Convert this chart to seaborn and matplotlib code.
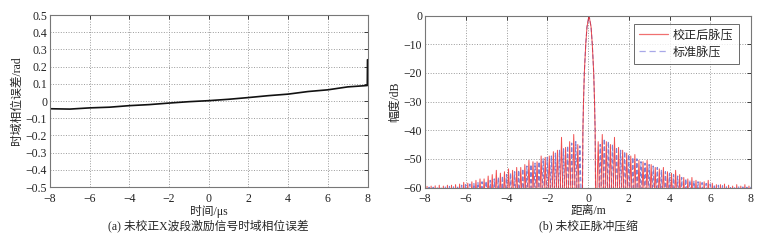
import numpy as np
import pandas as pd
import matplotlib
matplotlib.use("Agg")
import matplotlib.pyplot as plt
import seaborn as sns
from matplotlib.lines import Line2D

sns.set_theme(style="white")
FAM = ["Liberation Serif", "Noto Sans CJK SC", "DejaVu Sans"]
plt.rcParams["font.family"] = FAM
plt.rcParams["axes.unicode_minus"] = True

# ---------------- data: panel (a) ----------------
t_us = [-8, -7, -6, -5, -4, -3, -2, -1, 0, 1, 2, 3, 4, 5, 6, 7, 7.99, 8.0]
phase_err = [-0.045, -0.047, -0.040, -0.036, -0.027, -0.021, -0.012, -0.004, 0.002,
             0.010, 0.020, 0.031, 0.040, 0.055, 0.065, 0.082, 0.090, 0.24]

# ---------------- data: panel (b) ----------------
main_x = [-0.28, -0.25, -0.22, -0.18, -0.11, -0.05, 0.05, 0.15, 0.21, 0.28, 0.32, 0.35, 0.38]
main_y = [-70, -40, -30, -20, -10, -4, 0, -4, -10, -20, -30, -40, -70]

lobe_pos = [0.5, 0.7, 0.9, 1.1, 1.3, 1.5, 1.7, 1.9, 2.1, 2.3, 2.5, 2.7, 2.9, 3.1, 3.3,
            3.5, 3.7, 3.9, 4.1, 4.3, 4.5, 4.7, 4.9, 5.1, 5.3, 5.5, 5.7, 5.9, 6.1, 6.3,
            6.5, 6.7, 6.9, 7.1, 7.3, 7.5, 7.7, 7.9]

red_right = [-44, -41.5, -44, -45, -42.5, -46, -47, -48, -49, -48.5, -50.5, -51, -50.5,
             -52, -53, -53.5, -53, -54.5, -55, -54, -55.5, -56.5, -57, -56.5, -57.5,
             -58, -58, -57.5, -58.5, -59, -59, -58.8, -59.2, -59.5, -59, -59.5, -59, -59.5]
red_left = [-45, -41.5, -44, -46, -42.5, -47, -47.5, -49, -49.5, -49, -51, -51, -50.5,
            -52, -53, -53, -54, -53.5, -54.5, -55, -54, -55.5, -56, -57, -57, -57.5,
            -58, -58.5, -58.2, -58.8, -59, -59.2, -59.2, -59.5, -59.2, -59.4, -59.5, -59.6]
blue_right = [-45, -43, -44, -45, -46, -47, -47.5, -48.5, -49.5, -50, -51, -51.5, -52,
              -52.5, -53, -54, -54.5, -55, -55.5, -56, -56.5, -57, -57.5, -57.8, -58,
              -58.3, -58.6, -58.8, -59, -59.2, -59.4, -59.5, -59.6, -59.7, -59.8, -59.8,
              -59.9, -59.9]
blue_left = [-45.5, -44, -44.5, -45.5, -46.5, -47, -48, -49, -49.5, -50, -51, -51.5, -52,
             -52.5, -53.5, -54, -54.5, -55, -55.5, -56, -56.5, -57, -57.5, -57.8, -58,
             -58.3, -58.6, -58.8, -59, -59.2, -59.4, -59.5, -59.6, -59.7, -59.8, -59.8,
             -59.9, -59.9]

FLOOR = -70
HALF = 0.09


def spikes(pos, heights, shift):
    xs, ys = [], []
    for p, h in zip(pos, heights):
        c = p + shift
        xs += [c - HALF, c, c + HALF]
        ys += [FLOOR, h, FLOOR]
    return xs, ys


def series(shift, left_h, right_h):
    lx, ly = spikes([-p for p in lobe_pos][::-1], left_h[::-1], shift)
    rx, ry = spikes(lobe_pos, right_h, shift)
    x = lx + main_x + rx
    y = ly + main_y + ry
    return pd.DataFrame({"x": x, "y": y, "i": range(len(x))})


df_red = series(0.0, red_left, red_right)
df_blue = series(0.1, blue_left, blue_right)

# ---------------- figure ----------------
W, H = 769, 241
fig = plt.figure(figsize=(W / 100, H / 100), dpi=100)
axA = fig.add_axes([50 / W, (H - 187) / H, 317.5 / W, 172 / H])
axB = fig.add_axes([425 / W, (H - 187.5) / H, 326 / W, 172 / H])

FS = 8.5
for ax in (axA, axB):
    ax.grid(True, linestyle=":", color="#9a9a9a", linewidth=0.7)
    ax.tick_params(direction="in", length=3, labelsize=FS, colors="#222222",
                   top=True, right=True, width=0.6)
    ax.tick_params(axis="x", pad=4)
    ax.tick_params(axis="y", pad=2)
    for s in ax.spines.values():
        s.set_color("#777777")
        s.set_linewidth(0.8)
    ax.set_axisbelow(True)

# panel (a)
dfa = pd.DataFrame({"t": t_us, "e": phase_err})
sns.lineplot(data=dfa, x="t", y="e", ax=axA, color="#111111", linewidth=1.2,
             sort=False, estimator=None)
axA.set_xlim(-8, 8)
axA.set_ylim(-0.5, 0.5)
axA.set_xticks(range(-8, 9, 2))
axA.set_yticks(np.round(np.arange(-0.5, 0.51, 0.1), 1))
axA.set_yticklabels(["\u22120.5", "\u22120.4", "\u22120.3", "\u22120.2", "\u22120.1", "0",
                     "0.1", "0.2", "0.3", "0.4", "0.5"])
axA.set_xticklabels(["\u22128", "\u22126", "\u22124", "\u22122", "0", "2", "4", "6", "8"])
axA.set_xlabel("时间/μs", fontsize=FS, labelpad=0)
axA.set_ylabel("时域相位误差/rad", fontsize=FS, labelpad=2)

# panel (b)
sns.lineplot(data=df_blue, x="x", y="y", ax=axB, color="#7070cc", linewidth=0.8,
             sort=False, estimator=None, linestyle=(0, (4, 2)), alpha=0.9)
sns.lineplot(data=df_red, x="x", y="y", ax=axB, color="#ee3030", linewidth=0.7,
             sort=False, estimator=None, alpha=0.85)
axB.set_xlim(-8, 8)
axB.set_ylim(-60, 0)
axB.set_xticks(range(-8, 9, 2))
axB.set_xticklabels(["\u22128", "\u22126", "\u22124", "\u22122", "0", "2", "4", "6", "8"])
axB.set_yticks(range(-60, 1, 10))
axB.set_yticklabels(["\u221260", "\u221250", "\u221240", "\u221230", "\u221220", "\u221210", "0"])
axB.set_xlabel("距离/m", fontsize=FS, labelpad=0)
axB.set_ylabel("幅度/dB", fontsize=FS, labelpad=2)

handles = [Line2D([], [], color="#f07070", lw=0.9),
           Line2D([], [], color="#a8a8e8", lw=0.9, linestyle=(0, (5, 3)))]
leg = axB.legend(handles, ["校正后脉压", "标准脉压"], loc="upper right",
                 bbox_to_anchor=(0.963, 0.952), fontsize=8.7, frameon=True, fancybox=False,
                 handlelength=2.4, handletextpad=0.4, borderpad=0.45, labelspacing=0.45,
                 borderaxespad=0)
leg.get_frame().set_edgecolor("#444444")
leg.get_frame().set_linewidth(0.7)

# captions
fig.text(208 / W, 1 - 226 / H, "(a) 未校正X波段激励信号时域相位误差", ha="center", va="center",
         fontsize=FS, family=FAM)
fig.text(588 / W, 1 - 226 / H, "(b) 未校正脉冲压缩", ha="center", va="center",
         fontsize=FS, family=FAM)

fig.savefig("out.png", dpi=100)
